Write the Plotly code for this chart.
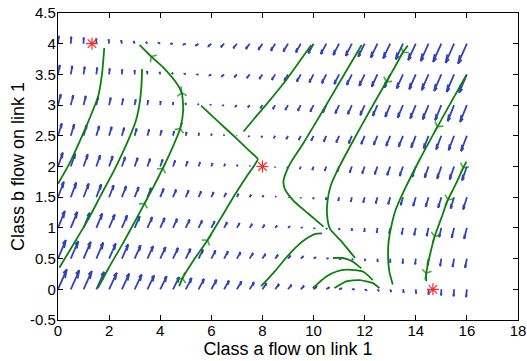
import numpy as np
import plotly.graph_objects as go
import plotly.figure_factory as ff

# ---------------- data ----------------
x_grid = [0.0, 0.5, 1.0, 1.5, 2.0, 2.5, 3.0, 3.5, 4.0, 4.5, 5.0, 5.5, 6.0, 6.5, 7.0, 7.5,
          8.0, 8.5, 9.0, 9.5, 10.0, 10.5, 11.0, 11.5, 12.0, 12.5, 13.0, 13.5, 14.0, 14.5,
          15.0, 15.5, 16.0]
y_grid = [0.0, 0.5, 1.0, 1.5, 2.0, 2.5, 3.0, 3.5, 4.0]

# field components (class a rate), one row per y value
u_rows = [
    [14.7, 14.2, 13.7, 13.2, 12.7, 12.2, 11.7, 11.2, 10.7, 10.2, 9.7, 9.2, 8.7, 8.2, 7.7, 7.2, 6.7, 6.2, 5.7, 5.2, 4.7, 4.2, 3.7, 3.2, 2.7, 2.2, 1.7, 1.2, 0.7, 0.2, -0.3, -0.8, -1.3],
    [13.0, 12.5, 12.0, 11.5, 11.0, 10.5, 10.0, 9.5, 9.0, 8.5, 8.0, 7.5, 7.0, 6.5, 6.0, 5.5, 5.0, 4.5, 4.0, 3.5, 3.0, 2.5, 2.0, 1.5, 1.0, 0.5, 0.0, -0.5, -1.0, -1.5, -2.0, -2.5, -3.0],
    [11.4, 10.9, 10.4, 9.9, 9.4, 8.9, 8.4, 7.9, 7.4, 6.9, 6.4, 5.9, 5.4, 4.9, 4.4, 3.9, 3.4, 2.9, 2.4, 1.9, 1.4, 0.9, 0.4, -0.1, -0.6, -1.1, -1.6, -2.1, -2.6, -3.1, -3.6, -4.1, -4.6],
    [9.7, 9.2, 8.7, 8.2, 7.7, 7.2, 6.7, 6.2, 5.7, 5.2, 4.7, 4.2, 3.7, 3.2, 2.7, 2.2, 1.7, 1.2, 0.7, 0.2, -0.3, -0.8, -1.3, -1.8, -2.3, -2.8, -3.3, -3.8, -4.3, -4.8, -5.3, -5.8, -6.3],
    [8.0, 7.5, 7.0, 6.5, 6.0, 5.5, 5.0, 4.5, 4.0, 3.5, 3.0, 2.5, 2.0, 1.5, 1.0, 0.5, 0.0, -0.5, -1.0, -1.5, -2.0, -2.5, -3.0, -3.5, -4.0, -4.5, -5.0, -5.5, -6.0, -6.5, -7.0, -7.5, -8.0],
    [6.3, 5.8, 5.3, 4.8, 4.3, 3.8, 3.3, 2.8, 2.3, 1.8, 1.3, 0.8, 0.3, -0.2, -0.7, -1.2, -1.7, -2.2, -2.7, -3.2, -3.7, -4.2, -4.7, -5.2, -5.7, -6.2, -6.7, -7.2, -7.7, -8.2, -8.7, -9.2, -9.7],
    [4.7, 4.2, 3.7, 3.2, 2.7, 2.2, 1.7, 1.2, 0.7, 0.2, -0.3, -0.8, -1.3, -1.8, -2.3, -2.8, -3.3, -3.8, -4.3, -4.8, -5.3, -5.8, -6.3, -6.8, -7.3, -7.8, -8.3, -8.8, -9.3, -9.8, -10.3, -10.8, -11.3],
    [3.0, 2.5, 2.0, 1.5, 1.0, 0.5, 0.0, -0.5, -1.0, -1.5, -2.0, -2.5, -3.0, -3.5, -4.0, -4.5, -5.0, -5.5, -6.0, -6.5, -7.0, -7.5, -8.0, -8.5, -9.0, -9.5, -10.0, -10.5, -11.0, -11.5, -12.0, -12.5, -13.0],
    [1.3, 0.8, 0.3, -0.2, -0.7, -1.2, -1.7, -2.2, -2.7, -3.2, -3.7, -4.2, -4.7, -5.2, -5.7, -6.2, -6.7, -7.2, -7.7, -8.2, -8.7, -9.2, -9.7, -10.2, -10.7, -11.2, -11.7, -12.2, -12.7, -13.2, -13.7, -14.2, -14.7],
]
# field components (class b rate), one row per y value
v_rows = [
    [13.8, 13.2, 12.6, 12.0, 11.4, 10.8, 10.2, 9.6, 9.0, 8.4, 7.8, 7.2, 6.6, 6.0, 5.4, 4.8, 4.2, 3.6, 3.0, 2.4, 1.8, 1.2, 0.6, 0.0, -0.6, -1.2, -1.8, -2.4, -3.0, -3.6, -4.2, -4.8, -5.4],
    [12.8, 12.2, 11.6, 11.0, 10.4, 9.8, 9.2, 8.6, 8.0, 7.4, 6.8, 6.2, 5.6, 5.0, 4.4, 3.8, 3.2, 2.6, 2.0, 1.4, 0.8, 0.2, -0.4, -1.0, -1.6, -2.2, -2.8, -3.4, -4.0, -4.6, -5.2, -5.8, -6.4],
    [11.7, 11.1, 10.5, 9.9, 9.3, 8.7, 8.1, 7.5, 6.9, 6.3, 5.7, 5.1, 4.5, 3.9, 3.3, 2.7, 2.1, 1.5, 0.9, 0.3, -0.3, -0.9, -1.5, -2.1, -2.7, -3.3, -3.9, -4.5, -5.1, -5.7, -6.3, -6.9, -7.5],
    [10.7, 10.1, 9.5, 8.9, 8.3, 7.7, 7.1, 6.5, 5.9, 5.3, 4.7, 4.1, 3.5, 2.9, 2.3, 1.7, 1.1, 0.5, -0.1, -0.7, -1.3, -1.9, -2.5, -3.1, -3.7, -4.3, -4.9, -5.5, -6.1, -6.7, -7.3, -7.9, -8.5],
    [9.6, 9.0, 8.4, 7.8, 7.2, 6.6, 6.0, 5.4, 4.8, 4.2, 3.6, 3.0, 2.4, 1.8, 1.2, 0.6, 0.0, -0.6, -1.2, -1.8, -2.4, -3.0, -3.6, -4.2, -4.8, -5.4, -6.0, -6.6, -7.2, -7.8, -8.4, -9.0, -9.6],
    [8.6, 8.0, 7.4, 6.8, 6.2, 5.6, 5.0, 4.4, 3.8, 3.2, 2.6, 2.0, 1.4, 0.8, 0.2, -0.4, -1.0, -1.6, -2.2, -2.8, -3.4, -4.0, -4.6, -5.2, -5.8, -6.4, -7.0, -7.6, -8.2, -8.8, -9.4, -10.0, -10.6],
    [7.5, 6.9, 6.3, 5.7, 5.1, 4.5, 3.9, 3.3, 2.7, 2.1, 1.5, 0.9, 0.3, -0.3, -0.9, -1.5, -2.1, -2.7, -3.3, -3.9, -4.5, -5.1, -5.7, -6.3, -6.9, -7.5, -8.1, -8.7, -9.3, -9.9, -10.5, -11.1, -11.7],
    [6.5, 5.9, 5.3, 4.7, 4.1, 3.5, 2.9, 2.3, 1.7, 1.1, 0.5, -0.1, -0.7, -1.3, -1.9, -2.5, -3.1, -3.7, -4.3, -4.9, -5.5, -6.1, -6.7, -7.3, -7.9, -8.5, -9.1, -9.7, -10.3, -10.9, -11.5, -12.1, -12.7],
    [5.4, 4.8, 4.2, 3.6, 3.0, 2.4, 1.8, 1.2, 0.6, 0.0, -0.6, -1.2, -1.8, -2.4, -3.0, -3.6, -4.2, -4.8, -5.4, -6.0, -6.6, -7.2, -7.8, -8.4, -9.0, -9.6, -10.2, -10.8, -11.4, -12.0, -12.6, -13.2, -13.8],
]

# equilibria (red asterisks)
equil_x = [1.33, 8.0, 14.67]
equil_y = [4.0, 2.0, 0.0]

# trajectories (green), listed in direction of motion
traj_1 = [(0.0, 1.72), (0.46, 2.06), (1.05, 2.6), (1.35, 2.9), (1.57, 3.14), (1.72, 3.5), (1.81, 3.93)]
traj_2 = [(0.05, 0.35), (0.6, 0.73), (1.17, 1.13), (1.7, 1.55), (2.21, 1.95), (2.75, 2.43),
          (3.05, 2.75), (3.2, 3.05), (3.27, 3.35), (3.29, 3.59)]
traj_3 = [(1.56, 0.02), (2.0, 0.36), (2.5, 0.72), (2.95, 1.06), (3.39, 1.4), (3.75, 1.68), (4.1, 1.97),
          (4.45, 2.28), (4.78, 2.62), (4.9, 2.92), (4.84, 3.2), (4.6, 3.38), (4.15, 3.6), (3.65, 3.79), (3.19, 3.98)]
traj_4 = [(4.74, 0.05), (4.87, 0.18), (5.3, 0.47), (5.85, 0.8), (6.4, 1.18), (6.95, 1.56), (7.4, 1.85),
          (7.7, 2.03), (7.82, 2.12), (7.5, 2.25), (7.0, 2.45), (6.3, 2.72), (5.6, 2.99)]
traj_5 = [(7.26, 2.57), (7.7, 2.79), (8.13, 3.0), (8.93, 3.41), (9.4, 3.68), (9.91, 3.98)]
traj_6 = [(11.88, 3.98), (11.1, 3.43), (10.38, 2.92), (9.6, 2.38), (9.09, 2.05), (8.9, 1.88), (8.82, 1.75),
          (8.88, 1.63), (9.2, 1.45), (9.8, 1.23), (10.39, 1.02)]
traj_7 = [(13.69, 3.97), (13.5, 3.86), (13.18, 3.62), (12.85, 3.38), (12.19, 2.9), (11.55, 2.42), (10.95, 1.95),
          (10.68, 1.7), (10.55, 1.45), (10.53, 1.2), (10.65, 0.98), (11.03, 0.81), (11.35, 0.65), (11.62, 0.51)]
traj_8 = [(15.98, 3.49), (15.4, 3.06), (14.85, 2.65), (14.15, 2.11), (13.5, 1.57), (13.2, 1.28), (13.04, 1.02),
          (12.93, 0.75), (12.92, 0.48), (12.97, 0.28), (13.1, 0.08)]
traj_9 = [(15.98, 2.08), (15.86, 1.98), (15.55, 1.7), (15.26, 1.46), (15.0, 1.16), (14.74, 0.86),
          (14.55, 0.55), (14.41, 0.26), (14.41, 0.13)]
traj_10 = [(7.95, 0.05), (8.5, 0.3), (8.96, 0.53), (9.4, 0.72), (9.74, 0.83), (10.05, 0.9), (10.33, 0.91)]
traj_11 = [(10.76, 0.51), (11.15, 0.51), (11.54, 0.45), (11.87, 0.34)]
traj_12 = [(9.97, 0.02), (10.5, 0.21), (10.9, 0.29), (11.28, 0.32), (11.93, 0.29), (12.32, 0.15)]
traj_13 = [(10.82, 0.02), (11.28, 0.13), (11.8, 0.15), (12.32, 0.1), (12.58, 0.02)]

# which points of a trajectory carry an arrowhead
arrow_points = {
    3: [4, 6, 8, 10, 13],
    4: [1, 3],
    7: [1, 3],
    8: [2],
    9: [1, 3, 5, 7],
}

trajectories = [traj_1, traj_2, traj_3, traj_4, traj_5, traj_6, traj_7, traj_8, traj_9,
                traj_10, traj_11, traj_12, traj_13]

# ---------------- styles ----------------
BLUE = "rgb(48,66,185)"
GREEN = "#0b800b"
RED = "#ff2a2a"
FONT = "Liberation Sans, Arial, Helvetica, sans-serif"

U = np.array(u_rows)
V = np.array(v_rows)
assert U.shape == (len(y_grid), len(x_grid)) and V.shape == U.shape
X, Y = np.meshgrid(x_grid, y_grid)

quiv = ff.create_quiver(X.ravel(), Y.ravel(), U.ravel(), V.ravel(),
                        scale=0.0235, arrow_scale=0.33, angle=np.pi / 9,
                        line=dict(color=BLUE, width=1.8), hoverinfo="skip", showlegend=False)

fig = go.Figure()
for tr in quiv.data:
    fig.add_trace(tr)

for tr in trajectories:
    fig.add_trace(go.Scatter(x=[p[0] for p in tr], y=[p[1] for p in tr], mode="lines",
                             line=dict(color=GREEN, width=1.8, shape="spline", smoothing=0.6),
                             hoverinfo="skip", showlegend=False))

ax, ay, sz = [], [], []
for k, idxs in arrow_points.items():
    tr = trajectories[k - 1]
    for i in idxs:
        ax += [tr[i - 1][0], tr[i][0]]
        ay += [tr[i - 1][1], tr[i][1]]
        sz += [0, 8]
fig.add_trace(go.Scatter(x=ax, y=ay, mode="markers",
                         marker=dict(symbol="y-up", size=sz, angleref="previous",
                                     color=GREEN, line=dict(color=GREEN, width=1.6)),
                         hoverinfo="skip", showlegend=False))

fig.add_trace(go.Scatter(x=equil_x, y=equil_y, mode="markers",
                         marker=dict(symbol="asterisk-open", size=10, color=RED,
                                     line=dict(color=RED, width=1.2)),
                         hoverinfo="skip", showlegend=False))

x_ticks = [0, 2, 4, 6, 8, 10, 12, 14, 16, 18]
y_ticks = [-0.5, 0, 0.5, 1, 1.5, 2, 2.5, 3, 3.5, 4, 4.5]
y_tick_text = ["-0.5", "0", "0.5", "1", "1.5", "2", "2.5", "3", "3.5", "4", "4.5"]

axis_common = dict(showgrid=False, zeroline=False, showline=True, linecolor="black", linewidth=1.2,
                   mirror="ticks", ticks="inside", ticklen=5, tickwidth=1, tickcolor="black",
                   automargin=False,
                   tickfont=dict(family=FONT, size=15, color="black"))

fig.update_layout(
    width=527, height=361,
    margin=dict(l=58, r=9, t=13, b=41),
    paper_bgcolor="white", plot_bgcolor="white",
    font=dict(family=FONT, color="black"),
    hovermode=False,
    xaxis=dict(range=[0, 18], tickvals=x_ticks, ticktext=[str(t) for t in x_ticks],
               ticklabelstandoff=-3,
               title=dict(text="Class a flow on link 1", font=dict(family=FONT, size=18), standoff=2),
               **axis_common),
    yaxis=dict(range=[-0.5, 4.5], tickvals=y_ticks, ticktext=y_tick_text,
               ticklabelstandoff=-2,
               title=dict(text="Class b flow on link 1", font=dict(family=FONT, size=18), standoff=0),
               **axis_common),
)

fig.write_html("out.html", config={"displayModeBar": False},
               post_script="document.body.style.margin='0px';")
